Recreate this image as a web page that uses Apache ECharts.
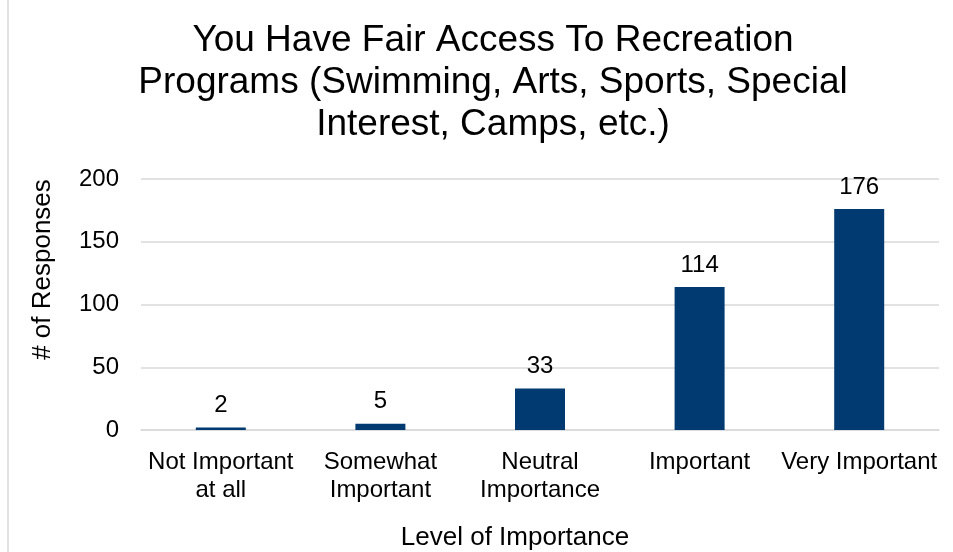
<!DOCTYPE html>
<html><head><meta charset="utf-8">
<script src="https://cdn.jsdelivr.net/npm/echarts@6/dist/echarts.min.js"></script>
<style>html,body{margin:0;padding:0;background:#fff}#c{width:953px;height:552px}</style>
</head><body><div id="c"></div>
<script>
const titleText = "You Have Fair Access To Recreation\nPrograms (Swimming, Arts, Sports, Special\nInterest, Camps, etc.)";
const categories = ["Not Important\nat all", "Somewhat\nImportant", "Neutral\nImportance", "Important", "Very Important"];
const responses = [2, 5, 33, 114, 176];
const yTicks = [0, 50, 100, 150, 200];
const xName = "Level of Importance";
const yName = "# of Responses";

const font = "Liberation Sans, Arial, sans-serif";
const chart = echarts.init(document.getElementById('c'));
chart.setOption({
  animation: false,
  backgroundColor: '#fff',
  title: {
    text: titleText, left: 488, top: 15, textAlign: 'center',
    textStyle: { fontFamily: font, fontSize: 37, fontWeight: 'normal', color: '#000', lineHeight: 42 }
  },
  graphic: [{ type: 'line', shape: { x1: 8, y1: 0, x2: 8, y2: 552 }, style: { stroke: '#d9d9d9', lineWidth: 1.5 } }],
  grid: { left: 141, right: 14, top: 179, bottom: 120 },
  xAxis: {
    type: 'category', data: categories,
    name: xName, nameLocation: 'middle', nameGap: 95,
    nameTextStyle: { fontFamily: font, fontSize: 26, color: '#000', padding: [0, 50, 0, 0] },
    axisLine: { show: true, lineStyle: { color: '#d9d9d9', width: 1.5 } },
    axisTick: { show: false },
    axisLabel: { fontFamily: font, fontSize: 24, color: '#000', lineHeight: 28, margin: 18, interval: 0 }
  },
  yAxis: {
    type: 'value', min: yTicks[0], max: yTicks[yTicks.length - 1], interval: 50,
    name: yName, nameLocation: 'middle', nameGap: 85, nameRotate: 90,
    nameTextStyle: { fontFamily: font, fontSize: 26, color: '#000', padding: [0, 0, 0, 70] },
    axisLine: { show: false }, axisTick: { show: false },
    axisLabel: { fontFamily: font, fontSize: 24, color: '#000', margin: 22 },
    splitLine: { lineStyle: { color: '#d9d9d9', width: 1.5 } }
  },
  series: [{
    type: 'bar', data: responses, barWidth: 50,
    itemStyle: { color: '#003A70' },
    label: { show: true, position: 'top', distance: 10, fontFamily: font, fontSize: 24, color: '#000' }
  }]
});
</script></body></html>
